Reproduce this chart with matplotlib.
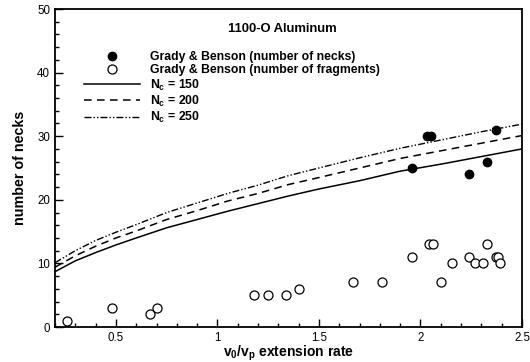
import matplotlib
matplotlib.use("Agg")
import matplotlib.pyplot as plt
from matplotlib.ticker import MultipleLocator

plt.rcParams['font.family'] = ['Liberation Sans', 'DejaVu Sans']
plt.rcParams['mathtext.fontset'] = 'custom'
plt.rcParams['mathtext.rm'] = 'Liberation Sans:bold'
plt.rcParams['mathtext.it'] = 'Liberation Sans:bold'
plt.rcParams['mathtext.bf'] = 'Liberation Sans:bold'

# Data: Grady & Benson (number of necks)
necks_x = [1.96, 2.03, 2.05, 2.24, 2.33, 2.37]
necks_y = [25, 30, 30, 24, 26, 31]

# Grady & Benson (number of fragments)
frag_x = [0.26, 0.48, 0.67, 0.70, 1.18, 1.25, 1.34, 1.40, 1.67, 1.81, 1.96, 2.04,
          2.06, 2.10, 2.155, 2.24, 2.27, 2.31, 2.33, 2.37, 2.38, 2.39]
frag_y = [1, 3, 2, 3, 5, 5, 5, 6, 7, 7, 11, 13,
          13, 7, 10, 11, 10, 10, 13, 11, 11, 10]

# Model curves
curve_x = [0.2, 0.3, 0.4, 0.5, 0.6, 0.75, 0.9, 1.05, 1.2, 1.35, 1.5, 1.7, 1.9, 2.1, 2.3, 2.5]
nc150 = [8.7, 10.4, 11.7, 12.9, 14.0, 15.6, 16.9, 18.2, 19.4, 20.6, 21.7, 23.0, 24.5, 25.6, 26.8, 28.0]
nc200 = [9.4, 11.2, 12.7, 14.0, 15.1, 16.9, 18.3, 19.8, 21.0, 22.4, 23.5, 25.0, 26.5, 27.7, 28.9, 30.1]
nc250 = [10.1, 12.0, 13.6, 14.9, 16.1, 18.0, 19.5, 21.0, 22.3, 23.8, 25.0, 26.6, 28.1, 29.4, 30.7, 31.9]

fig = plt.figure(figsize=(5.30, 3.62), dpi=100)
ax = fig.add_axes([55/530, 1 - 327/362, 467/530, 318/362])

l1, = ax.plot(curve_x, nc150, color='black', lw=1.1, linestyle='-')
l2, = ax.plot(curve_x, nc200, color='black', lw=1.1, dashes=(5, 3.5))
l3, = ax.plot(curve_x, nc250, color='black', lw=1.0, dashes=(5, 1.5, 1, 1.5, 1, 1.5))
p1, = ax.plot(necks_x, necks_y, 'o', color='black', ms=6, linestyle='none')
p2, = ax.plot(frag_x, frag_y, 'o', mfc='white', mec='black', mew=0.9, ms=6.5, linestyle='none')

ax.set_xlim(0.2, 2.5)
ax.set_ylim(0, 50)
ax.xaxis.set_major_locator(MultipleLocator(0.5))
ax.xaxis.set_minor_locator(MultipleLocator(0.1))
ax.yaxis.set_major_locator(MultipleLocator(10))
ax.yaxis.set_minor_locator(MultipleLocator(2))
ax.tick_params(which='both', direction='in', top=False, right=False, labelsize=8.3, width=1.0)
ax.tick_params(which='major', length=6)
ax.tick_params(which='minor', length=3)
ax.set_xticks([0.5, 1, 1.5, 2, 2.5])
ax.set_xticklabels(['0.5', '1', '1.5', '2', '2.5'])
for s in ax.spines.values():
    s.set_linewidth(1.3)

ax.set_xlabel(r'v$_0$/v$_p$ extension rate', fontsize=10, fontweight='bold', labelpad=0)
ax.set_ylabel('number of necks', fontsize=10.3, fontweight='bold', labelpad=7)

ax.text(0.486, 0.937, '1100-O Aluminum', transform=ax.transAxes, ha='center', va='center',
        fontsize=9.4, fontweight='bold')

leg = ax.legend([p1, p2, l1, l2, l3],
                ['Grady & Benson (number of necks)', 'Grady & Benson (number of fragments)',
                 r'N$_c$ = 150', r'N$_c$ = 200', r'N$_c$ = 250'],
                loc='upper left', bbox_to_anchor=(0.062, 0.868), frameon=False,
                borderpad=0, handlelength=4.6, handletextpad=0.8, labelspacing=0.1,
                prop={'size': 8.8, 'weight': 'bold'}, borderaxespad=0)

fig.savefig('out.png', dpi=100)
